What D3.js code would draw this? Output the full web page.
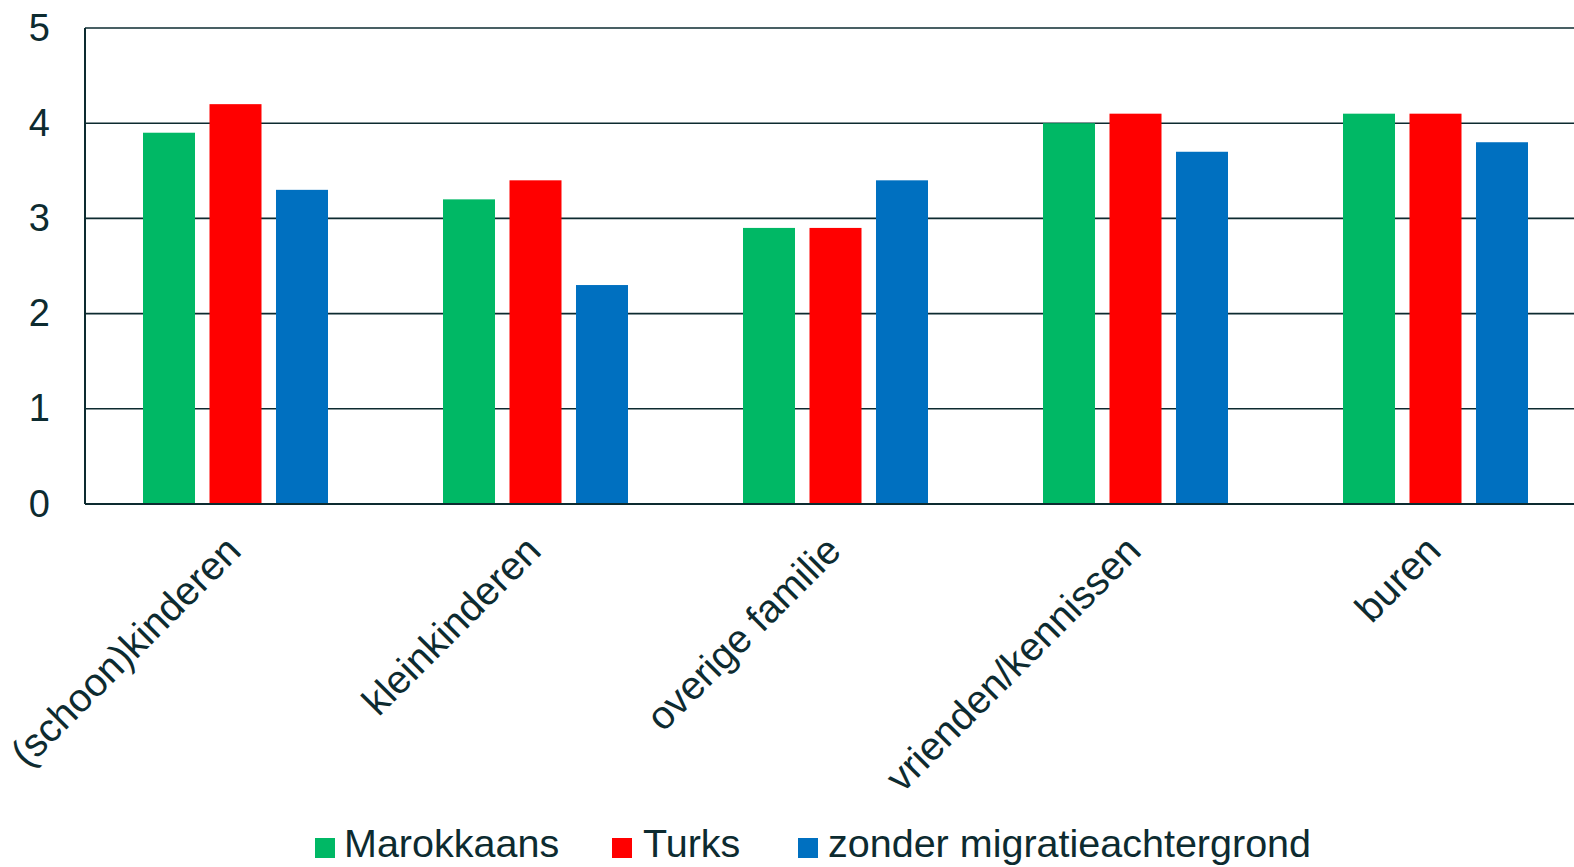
<!DOCTYPE html>
<html><head><meta charset="utf-8">
<script src="https://cdn.jsdelivr.net/npm/d3@7"></script>
<style>body{margin:0;background:#fff}svg{display:block}text{font-family:"Liberation Sans",Arial,sans-serif;fill:#0d2b30}</style>
</head><body>
<script>
const categories = ["(schoon)kinderen","kleinkinderen","overige familie","vrienden/kennissen","buren"];
const seriesNames = ["Marokkaans","Turks","zonder migratieachtergrond"];
const marokkaans = [3.9, 3.2, 2.9, 4.0, 4.1];
const turks = [4.2, 3.4, 2.9, 4.1, 4.1];
const zonder = [3.3, 2.3, 3.4, 3.7, 3.8];
const yTicks = [0,1,2,3,4,5];
const colors = ["#00b865","#ff0000","#0070c0"];
const seriesValues = [marokkaans, turks, zonder];

(function(){
const W = 1574, H = 867;
const svg = d3.select("body").append("svg").attr("width", W).attr("height", H);
const pL = 85, pR = 1585, pT = 28, pB = 504;

const x0 = d3.scaleBand().domain(categories).range([pL, pR]).paddingInner(0).paddingOuter(0);
const x1 = d3.scaleBand().domain(seriesNames).range([58, 243]).paddingInner(0.218).paddingOuter(0);
const y = d3.scaleLinear().domain([0,5]).range([pB, pT]);

// gridlines
svg.append("g").selectAll("line").data(yTicks.filter(d => d > 0)).join("line")
  .attr("x1", pL).attr("x2", pR)
  .attr("y1", d => y(d)).attr("y2", d => y(d))
  .attr("stroke", "#0d2b30").attr("stroke-width", 1.6);

// bars
const groups = svg.append("g").selectAll("g").data(categories).join("g")
  .attr("transform", d => `translate(${x0(d)},0)`);
groups.selectAll("rect").data((c, i) => seriesNames.map((s, j) => ({s, v: seriesValues[j][i], j})))
  .join("rect")
  .attr("x", d => x1(d.s)).attr("width", x1.bandwidth())
  .attr("y", d => y(d.v)).attr("height", d => y(0) - y(d.v))
  .attr("fill", d => colors[d.j]);

// axes lines
svg.append("line").attr("x1", pL).attr("x2", pL).attr("y1", pT).attr("y2", pB)
  .attr("stroke", "#0d2b30").attr("stroke-width", 2);
svg.append("line").attr("x1", pL).attr("x2", pR).attr("y1", pB).attr("y2", pB)
  .attr("stroke", "#0d2b30").attr("stroke-width", 2.2);

// y labels
const yAxis = d3.axisLeft(y).tickValues(yTicks).tickSize(0).tickPadding(35).tickFormat(d3.format("d"));
const ya = svg.append("g").attr("transform", `translate(${pL},0)`).call(yAxis);
ya.select(".domain").remove();
ya.selectAll("text").style("font-size", "38px").style("fill", "#0d2b30")
  .style("font-family", '"Liberation Sans",Arial,sans-serif');

// x labels
svg.append("g").selectAll("text").data(categories).join("text")
  .attr("transform", d => `translate(${x0(d) + x0.bandwidth()/2 + 8},553) rotate(-45)`)
  .attr("text-anchor", "end")
  .style("font-size", "39.5px")
  .text(d => d);

// legend
const legendPos = [[315,344],[612,643],[798,828]];
const lg = svg.append("g");
seriesNames.forEach((s, i) => {
  lg.append("rect").attr("x", legendPos[i][0]).attr("y", 838).attr("width", 20).attr("height", 20).attr("fill", colors[i]);
  lg.append("text").attr("x", legendPos[i][1]).attr("y", 857).style("font-size", "39.5px").text(s);
});
})();
</script>
</body></html>
